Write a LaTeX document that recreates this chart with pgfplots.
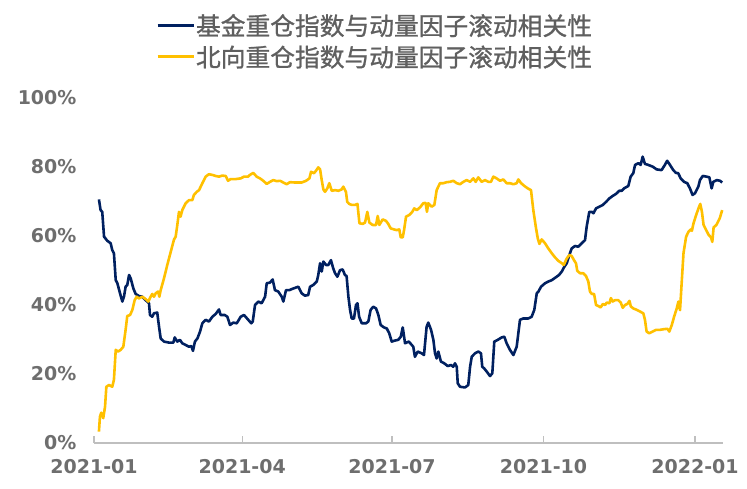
\documentclass[border=0pt]{standalone}
\usepackage{pgfplots}
\pgfplotsset{compat=1.18}
\usepackage{pgfplotstable}
\usepackage{fontspec}
\setmainfont{DejaVu Sans}
\newfontfamily\cjk[FakeBold=1]{Noto Sans CJK SC}
\definecolor{navy}{RGB}{0,32,96}
\definecolor{gold}{RGB}{255,192,0}
\definecolor{ticktext}{RGB}{110,110,110}
\definecolor{legtext}{RGB}{95,95,95}
\definecolor{axisgray}{RGB}{191,191,191}

\pgfplotstableread{
d v
3.0 70.6
4.0 67.5
5.0 67.0
6.1 59.8
8.1 58.6
10.1 57.9
11.1 55.9
12.1 55.0
13.2 47.2
14.2 46.3
15.8 43.4
17.2 41.0
18.2 42.4
19.2 45.3
20.2 45.8
21.3 48.7
22.3 47.7
23.9 44.8
25.3 43.2
27.3 42.6
29.3 42.4
31.4 41.4
33.4 40.5
34.0 37.1
35.4 36.6
36.4 37.6
38.4 37.8
39.5 33.7
40.5 30.3
42.5 29.4
45.5 29.1
48.2 29.1
49.0 30.6
50.6 29.4
52.2 29.9
53.6 28.9
55.7 28.4
57.7 27.9
59.1 28.1
60.1 26.7
61.3 29.4
62.8 30.3
64.4 32.3
65.8 34.7
67.8 35.7
69.8 35.2
71.9 36.6
73.9 37.4
75.9 38.7
76.9 37.1
79.4 37.1
81.0 36.6
82.6 34.2
84.6 34.9
86.7 34.7
89.1 36.6
91.1 37.1
93.5 35.8
95.5 34.7
96.4 35.2
97.8 40.0
99.8 41.0
101.8 40.5
103.9 42.4
104.9 46.3
106.9 46.5
108.5 47.4
109.9 44.3
111.9 43.9
114.0 42.4
115.0 41.0
116.6 44.3
118.6 44.3
121.1 44.8
124.1 45.3
126.1 43.4
128.1 42.7
130.1 42.9
131.2 45.3
133.2 45.8
135.3 46.8
136.2 48.7
137.3 52.1
138.3 49.7
139.3 52.6
140.9 51.6
142.3 51.6
143.9 53.0
145.3 50.6
146.4 49.2
147.8 48.2
149.4 50.1
151.0 50.3
152.4 48.7
153.4 48.4
154.5 42.4
155.5 38.6
156.5 36.1
157.9 36.1
159.1 40.0
160.0 40.5
161.0 36.6
162.6 34.7
165.2 34.7
166.6 35.2
168.0 38.6
169.6 39.5
171.3 39.0
172.7 37.1
174.1 34.2
176.1 33.5
177.8 33.2
179.3 31.8
180.8 29.4
182.8 29.7
184.8 29.9
186.3 30.8
187.5 33.5
188.9 28.9
191.2 29.4
193.9 27.9
194.9 25.0
196.6 26.5
199.0 26.0
200.4 25.5
202.0 33.7
203.0 34.9
204.7 32.8
206.1 29.9
207.1 26.0
208.1 24.5
209.1 26.5
210.7 23.6
212.7 23.1
214.8 22.3
216.8 22.6
218.2 22.1
219.2 23.1
220.3 22.1
220.9 17.3
222.3 16.3
225.3 16.1
227.3 16.8
228.4 22.1
229.4 25.0
231.4 26.0
233.4 26.5
235.0 26.0
235.8 22.1
237.0 21.6
238.5 20.7
240.5 19.4
241.9 20.2
243.1 29.4
245.2 29.9
247.6 30.6
249.2 30.8
250.6 28.9
252.6 27.0
254.7 25.5
256.7 27.9
258.7 35.7
260.7 36.1
263.8 36.1
265.8 36.6
267.4 38.6
268.9 43.4
269.9 43.9
271.5 45.3
273.9 46.3
275.9 46.8
278.0 47.2
280.4 48.0
282.4 48.7
284.1 49.7
285.3 50.8
287.1 52.1
288.7 54.5
290.1 56.4
292.1 57.1
294.1 56.9
296.2 57.9
298.2 58.8
299.2 62.7
300.8 67.0
302.3 67.0
303.3 66.6
304.9 68.0
306.9 68.5
309.0 69.0
311.0 69.9
313.0 70.9
315.0 71.6
317.0 72.2
319.0 73.1
320.5 73.1
321.9 73.8
324.5 74.5
325.9 77.2
327.5 78.2
328.6 80.6
330.6 81.1
332.0 80.6
333.2 83.0
334.6 80.9
336.6 80.6
339.3 80.1
341.7 79.3
344.7 79.1
346.7 80.6
348.1 81.8
349.8 80.6
351.8 79.1
353.4 78.3
354.8 78.2
356.3 76.7
358.3 75.7
360.3 75.3
361.9 73.8
363.5 71.9
365.0 72.4
367.0 74.3
368.0 76.2
369.7 77.4
372.1 77.2
373.7 77.0
375.1 73.8
376.1 75.7
378.2 76.2
380.2 76.0
381.5 75.5
}\fundtable

\pgfplotstableread{
d v
3.0 3.3
3.6 7.6
4.4 8.8
5.6 7.2
6.7 10.5
7.5 16.3
9.1 16.8
11.1 16.3
12.1 18.3
13.2 27.0
14.6 26.5
16.2 27.0
17.8 27.9
19.2 32.8
20.2 36.8
21.9 37.1
23.3 38.6
24.7 41.4
25.9 42.4
27.3 41.9
29.3 42.4
31.4 41.7
33.0 41.0
34.4 42.4
35.4 43.2
36.4 42.4
37.5 43.4
38.9 43.9
39.7 42.4
40.5 44.3
42.5 47.7
44.5 51.6
46.6 55.4
48.6 59.0
49.6 59.8
50.6 63.2
51.6 67.0
52.6 65.6
53.6 67.5
55.7 69.5
57.7 70.4
59.7 70.4
60.7 71.9
62.4 72.8
63.8 73.3
65.8 75.3
67.8 77.2
69.8 77.9
71.9 77.7
73.9 77.4
75.9 77.2
77.9 77.5
80.0 77.4
81.4 76.0
83.0 76.5
86.1 76.5
89.1 76.7
91.1 77.2
93.5 77.2
94.7 77.7
96.7 78.3
98.8 77.2
100.8 76.7
102.8 76.0
104.9 75.1
106.9 75.7
108.9 76.2
111.0 75.9
113.0 76.0
115.0 75.5
117.0 75.0
119.0 75.6
122.1 75.5
126.1 75.5
128.8 76.0
130.8 76.7
131.8 78.6
133.6 78.2
134.8 78.9
136.2 79.9
137.3 79.3
138.3 76.2
139.3 73.5
140.3 72.8
141.7 73.8
142.9 75.3
144.4 73.1
146.4 73.3
148.4 73.1
150.4 73.5
151.4 74.3
153.0 72.8
153.8 69.9
155.0 69.3
156.5 69.0
158.5 69.0
160.0 69.3
161.2 63.7
163.2 63.5
164.6 63.9
166.0 67.0
167.2 63.9
169.2 63.2
171.3 63.2
172.3 65.8
173.3 63.2
175.3 64.8
177.3 64.4
178.7 63.5
180.2 62.2
182.2 61.9
183.8 61.7
185.4 61.9
186.3 59.6
187.5 59.6
188.3 61.7
189.5 65.6
191.5 66.1
193.3 67.0
194.5 68.0
196.0 67.5
198.0 68.3
200.0 69.5
201.4 69.6
202.2 67.0
203.0 69.5
205.1 68.5
206.7 69.0
208.1 73.3
210.1 75.3
212.1 75.3
214.2 75.6
216.2 75.7
218.2 76.0
220.3 75.3
222.3 75.0
224.3 75.7
226.3 76.2
228.4 75.7
230.4 76.7
231.8 75.7
233.4 77.0
235.4 75.7
237.5 76.2
239.5 75.7
241.1 75.7
242.5 77.2
244.5 76.7
246.6 76.0
248.6 76.4
250.6 75.3
252.6 75.3
254.7 75.0
256.7 75.3
257.7 76.4
259.4 75.3
261.4 74.5
263.4 73.8
265.4 73.3
266.8 67.5
268.3 62.7
269.5 59.3
270.5 57.7
271.9 59.0
273.9 57.9
275.9 56.4
278.0 55.0
280.0 53.8
282.0 52.8
284.1 52.1
285.3 51.6
287.1 53.5
288.7 54.5
290.1 54.2
291.5 53.0
292.7 52.1
293.5 49.9
295.2 49.2
297.2 49.2
298.8 48.4
300.2 46.8
301.2 43.9
302.3 43.2
303.7 43.2
304.9 40.0
306.3 39.7
307.7 39.3
309.0 40.3
310.4 40.0
311.4 40.7
313.0 40.5
313.9 42.0
315.0 41.0
316.4 41.4
318.4 41.4
319.9 40.7
321.1 39.2
322.5 40.0
323.9 40.3
325.2 41.2
326.0 39.6
327.5 39.0
329.6 38.6
331.6 38.1
333.6 37.6
334.6 35.7
335.6 32.3
337.2 31.8
339.3 32.3
341.3 32.8
343.7 32.8
346.2 33.0
348.2 33.1
349.4 32.3
350.9 34.2
352.3 36.6
353.9 39.0
354.9 41.0
355.9 38.5
357.0 47.2
358.0 55.0
359.6 59.8
361.0 61.2
362.5 61.9
363.1 61.5
364.1 63.7
365.7 66.1
367.1 68.0
368.2 69.3
369.2 67.0
370.2 63.2
371.8 61.7
373.3 60.3
374.7 59.6
375.5 58.3
376.3 62.5
378.0 63.2
380.0 65.1
381.5 67.5
}\northtable

\begin{document}
\begin{tikzpicture}
\useasboundingbox (-94pt,-46pt) rectangle (653pt,443pt);
\begin{axis}[
  scale only axis,
  width=629pt, height=345pt,
  xmin=0, xmax=382, ymin=0, ymax=100,
  axis x line*=bottom,
  axis y line*=left,
  y axis line style={draw=none},
  x axis line style={draw=axisgray, line width=1.2pt},
  xtick={0,90,181,273,365},
  xticklabels={2021-01,2021-04,2021-07,2021-10,2022-01},
  ytick={0,20,40,60,80,100},
  yticklabels={0\%,20\%,40\%,60\%,80\%,100\%},
  tick align=inside,
  major tick length=7pt,
  xtick style={draw=axisgray, line width=1.2pt},
  ytick style={draw=none},
  ticklabel style={font=\fontsize{19}{19}\selectfont\bfseries, text=ticktext},
  yticklabel style={xshift=-14pt},
  xticklabel style={yshift=-13pt},
  clip=false,
  legend cell align=left,
  legend style={at={(0.0986,1.165)}, anchor=west, draw=none, fill=none,
    inner sep=0pt, row sep=7pt,
    nodes={inner sep=1pt, text=legtext},
    font=\cjk\fontsize{24.75}{26}\selectfont},
  legend image code/.code={\draw[#1, line width=2.8pt] (0pt,0pt) -- (36pt,0pt);},
]
\addplot[navy, line width=2.6pt, line join=round] table[x=d, y=v] {\fundtable};
\addlegendentry{基金重仓指数与动量因子滚动相关性}
\addplot[gold, line width=2.6pt, line join=round] table[x=d, y=v] {\northtable};
\addlegendentry{北向重仓指数与动量因子滚动相关性}
\end{axis}
\end{tikzpicture}
\end{document}
